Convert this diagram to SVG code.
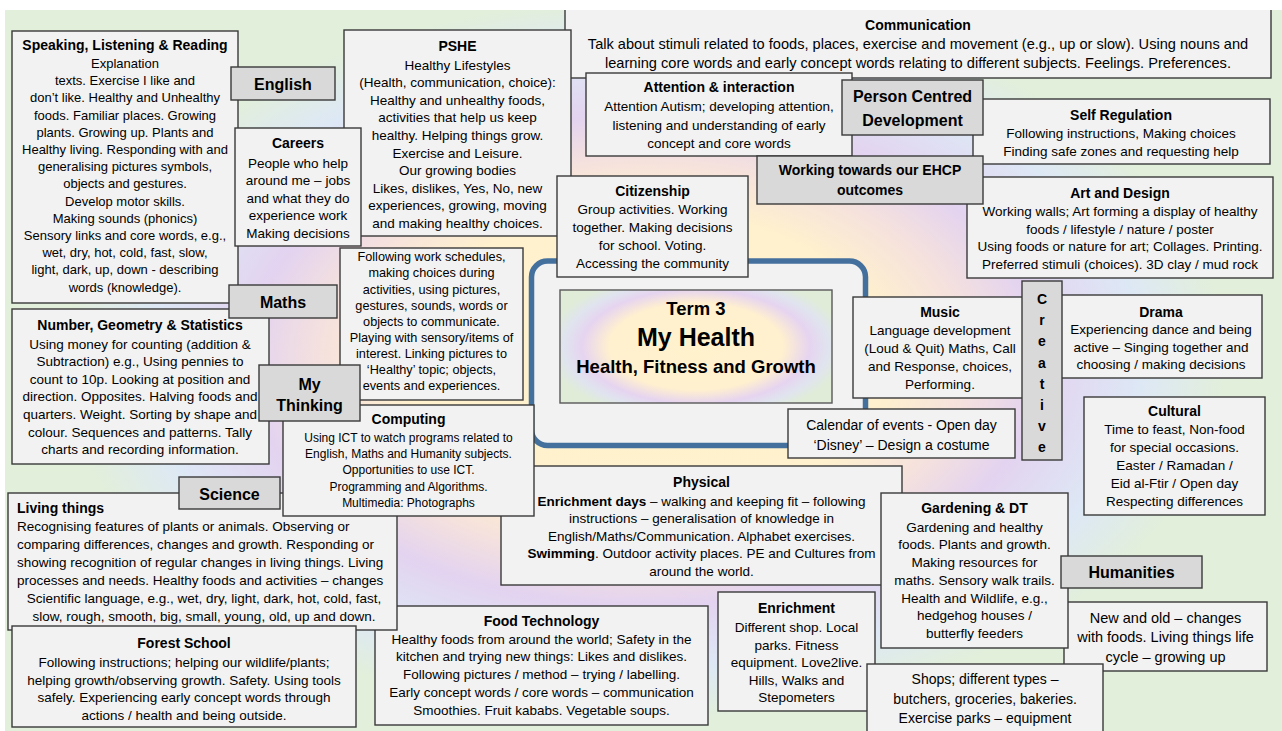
<svg xmlns="http://www.w3.org/2000/svg" width="1282" height="731" viewBox="0 0 1282 731">
<defs>
<radialGradient id="bg" gradientUnits="userSpaceOnUse" cx="645" cy="360" r="600" gradientTransform="translate(0 136.8) scale(1 0.62)">
<stop offset="0" stop-color="#fff2cc"/>
<stop offset="0.4" stop-color="#fff1cd"/>
<stop offset="0.53" stop-color="#f6e2dc"/>
<stop offset="0.66" stop-color="#e3d3f0"/>
<stop offset="0.83" stop-color="#dde8f5"/>
<stop offset="0.97" stop-color="#e2efda"/>
</radialGradient>
<radialGradient id="tg" gradientUnits="userSpaceOnUse" cx="696" cy="346.5" r="150" gradientTransform="translate(0 173.25) scale(1 0.5)">
<stop offset="0" stop-color="#fff2cc"/>
<stop offset="0.58" stop-color="#fff0cf"/>
<stop offset="0.76" stop-color="#e6d4f0"/>
<stop offset="0.88" stop-color="#e0e4ef"/>
<stop offset="1" stop-color="#e0ecd8"/>
</radialGradient>
<style>
.bx{fill:#f2f2f2;stroke:#3a3a3a;stroke-width:1.4}
.lb{fill:#d9d9d9;stroke:#3a3a3a;stroke-width:1.4}
text{font-family:'Liberation Sans',Arial,sans-serif;fill:#000;text-anchor:middle}
.h{font-weight:bold;font-size:14px}
.r{font-size:13.5px}
.m{font-size:13px}
.s{font-size:12px}
.g{font-size:14px}
.L{font-weight:bold;font-size:16px}
.st{text-anchor:start}
.bd{font-weight:bold}
</style>
</defs>
<rect x="5" y="10" width="1277" height="721" fill="url(#bg)"/>

<g id="communication">
<rect class="bx" x="565" y="2" width="706" height="76"/>
<text class="h" x="918" y="30">Communication</text>
<text style="font-size:14.6px"><tspan x="918" y="49">Talk about stimuli related to foods, places, exercise and movement (e.g., up or slow). Using nouns and</tspan><tspan x="918" y="68">learning core words and early concept words relating to different subjects. Feelings. Preferences.</tspan></text>
</g>

<g id="self-regulation">
<rect class="bx" x="973" y="99" width="297" height="65"/>
<text class="h" x="1121" y="120">Self Regulation</text>
<text class="r"><tspan x="1121" y="138">Following instructions, Making choices</tspan><tspan x="1121" y="156">Finding safe zones and requesting help</tspan></text>
</g>

<g id="attention">
<rect class="bx" x="586" y="73" width="266" height="83"/>
<text class="h" x="719" y="92">Attention &amp; interaction</text>
<text class="r"><tspan x="719" y="111">Attention Autism; developing attention,</tspan><tspan x="719" y="129.5">listening and understanding of early</tspan><tspan x="719" y="148">concept and core words</tspan></text>
</g>

<g id="person-centred">
<rect class="lb" x="842" y="80" width="141" height="55"/>
<text class="L"><tspan x="912.5" y="102">Person Centred</tspan><tspan x="912.5" y="126">Development</tspan></text>
</g>

<g id="art-design">
<rect class="bx" x="967" y="177" width="306" height="101"/>
<text class="h" x="1120" y="198">Art and Design</text>
<text class="r"><tspan x="1120" y="216">Working walls; Art forming a display of healthy</tspan><tspan x="1120" y="233.5">foods / lifestyle / nature / poster</tspan><tspan x="1120" y="251">Using foods or nature for art; Collages. Printing.</tspan><tspan x="1120" y="268.5">Preferred stimuli (choices). 3D clay / mud rock</tspan></text>
</g>

<g id="ehcp">
<rect class="lb" x="757" y="156" width="226" height="48"/>
<text class="h"><tspan x="870" y="175">Working towards our EHCP</tspan><tspan x="870" y="195">outcomes</tspan></text>
</g>

<g id="speaking">
<rect class="bx" x="12" y="31" width="226" height="272"/>
<text class="h" x="125" y="50">Speaking, Listening &amp; Reading</text>
<text class="m"><tspan x="125" y="68">Explanation</tspan><tspan x="125" dy="17.2">texts. Exercise I like and</tspan><tspan x="125" dy="17.2">don’t like. Healthy and Unhealthy</tspan><tspan x="125" dy="17.2">foods. Familiar places. Growing</tspan><tspan x="125" dy="17.2">plants. Growing up. Plants and</tspan><tspan x="125" dy="17.2">Healthy living. Responding with and</tspan><tspan x="125" dy="17.2">generalising pictures symbols,</tspan><tspan x="125" dy="17.2">objects and gestures.</tspan><tspan x="125" dy="17.2">Develop motor skills.</tspan><tspan x="125" dy="17.2">Making sounds (phonics)</tspan><tspan x="125" dy="17.2">Sensory links and core words, e.g.,</tspan><tspan x="125" dy="17.2">wet, dry, hot, cold, fast, slow,</tspan><tspan x="125" dy="17.2">light, dark, up, down - describing</tspan><tspan x="125" dy="17.2">words (knowledge).</tspan></text>
</g>

<g id="pshe">
<rect class="bx" x="344" y="30" width="227" height="206"/>
<text class="h" x="457.5" y="51">PSHE</text>
<text class="r"><tspan x="457.5" y="69.5">Healthy Lifestyles</tspan><tspan x="457.5" dy="17.6">(Health, communication, choice):</tspan><tspan x="457.5" dy="17.6">Healthy and unhealthy foods,</tspan><tspan x="457.5" dy="17.6">activities that help us keep</tspan><tspan x="457.5" dy="17.6">healthy. Helping things grow.</tspan><tspan x="457.5" dy="17.6">Exercise and Leisure.</tspan><tspan x="457.5" dy="17.6">Our growing bodies</tspan><tspan x="457.5" dy="17.6">Likes, dislikes, Yes, No, new</tspan><tspan x="457.5" dy="17.6">experiences, growing, moving</tspan><tspan x="457.5" dy="17.6">and making healthy choices.</tspan></text>
</g>

<g id="english">
<rect class="lb" x="231" y="67" width="104" height="33"/>
<text class="L" x="283" y="90">English</text>
</g>

<g id="careers">
<rect class="bx" x="235" y="128" width="126" height="118"/>
<text class="h" x="298" y="148">Careers</text>
<text class="r"><tspan x="298" y="167.5">People who help</tspan><tspan x="298" dy="17.6">around me – jobs</tspan><tspan x="298" dy="17.6">and what they do</tspan><tspan x="298" dy="17.6">experience work</tspan><tspan x="298" dy="17.6">Making decisions</tspan></text>
</g>

<g id="number">
<rect class="bx" x="12" y="309" width="257" height="155"/>
<text class="h" x="140" y="330">Number, Geometry &amp; Statistics</text>
<text class="r"><tspan x="140" y="348.5">Using money for counting (addition &amp;</tspan><tspan x="140" dy="17.6">Subtraction) e.g., Using pennies to</tspan><tspan x="140" dy="17.6">count to 10p. Looking at position and</tspan><tspan x="140" dy="17.6">direction. Opposites. Halving foods and</tspan><tspan x="140" dy="17.6">quarters. Weight. Sorting by shape and</tspan><tspan x="140" dy="17.6">colour. Sequences and patterns. Tally</tspan><tspan x="140" dy="17.6">charts and recording information.</tspan></text>
</g>

<g id="maths">
<rect class="lb" x="229" y="285" width="108" height="33"/>
<text class="L" x="283" y="308">Maths</text>
</g>

<g id="communicating">
<rect class="bx" x="340" y="248" width="183" height="152"/>
<text style="font-size:12.7px"><tspan x="431.5" y="261.3">Following work schedules,</tspan><tspan x="431.5" dy="16.1">making choices during</tspan><tspan x="431.5" dy="16.1">activities, using pictures,</tspan><tspan x="431.5" dy="16.1">gestures, sounds, words or</tspan><tspan x="431.5" dy="16.1">objects to communicate.</tspan><tspan x="431.5" dy="16.1">Playing with sensory/items of</tspan><tspan x="431.5" dy="16.1">interest. Linking pictures to</tspan><tspan x="431.5" dy="16.1">‘Healthy’ topic; objects,</tspan><tspan x="431.5" dy="16.1">events and experiences.</tspan></text>
</g>

<g id="centre">
<rect x="531.5" y="261" width="334" height="184.5" rx="16" fill="#f2f2f2" stroke="#44709d" stroke-width="5.5"/>
<rect x="560" y="290" width="272" height="113" fill="url(#tg)" stroke="#595959" stroke-width="1.4"/>
<text font-weight="bold"><tspan x="696" y="315" font-size="18.5px">Term 3</tspan><tspan x="696" y="346" font-size="25px">My Health</tspan><tspan x="696" y="373" font-size="18.5px">Health, Fitness and Growth</tspan></text>
</g>

<g id="citizenship">
<rect class="bx" x="557" y="176" width="191" height="101"/>
<text class="h" x="652.5" y="196">Citizenship</text>
<text class="r"><tspan x="652.5" y="213.5">Group activities. Working</tspan><tspan x="652.5" dy="18">together. Making decisions</tspan><tspan x="652.5" dy="18">for school. Voting.</tspan><tspan x="652.5" dy="18">Accessing the community</tspan></text>
</g>

<g id="music">
<rect class="bx" x="853" y="297" width="174" height="101"/>
<text class="h" x="940" y="316.5">Music</text>
<text class="r"><tspan x="940" y="334.5">Language development</tspan><tspan x="940" dy="18">(Loud &amp; Quit) Maths, Call</tspan><tspan x="940" dy="18">and Response, choices,</tspan><tspan x="940" dy="18">Performing.</tspan></text>
</g>

<g id="calendar">
<rect class="bx" x="788" y="409" width="227" height="49"/>
<text class="g"><tspan x="901.5" y="429.5">Calendar of events - Open day</tspan><tspan x="901.5" y="449.5">‘Disney’ – Design a costume</tspan></text>
</g>

<g id="drama">
<rect class="bx" x="1058" y="295" width="204" height="83"/>
<text class="h" x="1161" y="316.5">Drama</text>
<text class="r"><tspan x="1161" y="334">Experiencing dance and being</tspan><tspan x="1161" dy="17.5">active – Singing together and</tspan><tspan x="1161" dy="17.5">choosing / making decisions</tspan></text>
</g>

<g id="creative">
<rect class="lb" x="1022" y="281" width="40" height="179"/>
<text class="h"><tspan x="1042" y="304">C</tspan><tspan x="1042" dy="21.2">r</tspan><tspan x="1042" dy="21.2">e</tspan><tspan x="1042" dy="21.2">a</tspan><tspan x="1042" dy="21.2">t</tspan><tspan x="1042" dy="21.2">i</tspan><tspan x="1042" dy="21.2">v</tspan><tspan x="1042" dy="21.2">e</tspan></text>
</g>

<g id="cultural">
<rect class="bx" x="1084" y="397" width="181" height="118"/>
<text class="h" x="1174.5" y="416">Cultural</text>
<text class="r"><tspan x="1174.5" y="434">Time to feast, Non-food</tspan><tspan x="1174.5" dy="17.9">for special occasions.</tspan><tspan x="1174.5" dy="17.9">Easter / Ramadan /</tspan><tspan x="1174.5" dy="17.9">Eid al-Ftir / Open day</tspan><tspan x="1174.5" dy="17.9">Respecting differences</tspan></text>
</g>

<g id="food-technology">
<rect class="bx" x="375" y="606" width="333" height="119"/>
<text class="h" x="541.5" y="625.5">Food Technology</text>
<text class="r"><tspan x="541.5" y="643.5">Healthy foods from around the world; Safety in the</tspan><tspan x="541.5" dy="17.9">kitchen and trying new things: Likes and dislikes.</tspan><tspan x="541.5" dy="17.9">Following pictures / method – trying / labelling.</tspan><tspan x="541.5" dy="17.9">Early concept words / core words – communication</tspan><tspan x="541.5" dy="17.9">Smoothies. Fruit kababs. Vegetable soups.</tspan></text>
</g>

<g id="living-things">
<rect class="bx" x="8" y="493" width="389" height="137"/>
<text class="h st" x="17" y="512.5">Living things</text>
<text class="r"><tspan class="st" x="17" y="530.5">Recognising features of plants or animals. Observing or</tspan><tspan class="st" x="17" dy="18.1">comparing differences, changes and growth. Responding or</tspan><tspan class="st" x="17" dy="18.1">showing recognition of regular changes in living things. Living</tspan><tspan class="st" x="17" dy="18.1">processes and needs. Healthy foods and activities – changes</tspan><tspan x="204" dy="18.1">Scientific language, e.g., wet, dry, light, dark, hot, cold, fast,</tspan><tspan x="204" dy="18.1">slow, rough, smooth, big, small, young, old, up and down.</tspan></text>
</g>

<g id="physical">
<rect class="bx" x="501" y="466" width="401" height="119"/>
<text class="h" x="701.5" y="487">Physical</text>
<text class="r"><tspan x="701.5" y="505.5"><tspan class="bd">Enrichment days</tspan> – walking and keeping fit – following</tspan><tspan x="701.5" dy="17.6">instructions – generalisation of knowledge in</tspan><tspan x="701.5" dy="17.6">English/Maths/Communication. Alphabet exercises.</tspan><tspan x="701.5" dy="17.6"><tspan class="bd">Swimming</tspan>. Outdoor activity places. PE and Cultures from</tspan><tspan x="701.5" dy="17.6">around the world.</tspan></text>
</g>

<g id="computing">
<rect class="bx" x="283" y="405" width="251" height="111"/>
<text class="h" x="408.5" y="424">Computing</text>
<text class="s"><tspan x="408.5" y="442">Using ICT to watch programs related to</tspan><tspan x="408.5" dy="16.2">English, Maths and Humanity subjects.</tspan><tspan x="408.5" dy="16.2">Opportunities to use ICT.</tspan><tspan x="408.5" dy="16.2">Programming and Algorithms.</tspan><tspan x="408.5" dy="16.2">Multimedia: Photographs</tspan></text>
</g>

<g id="my-thinking">
<rect class="lb" x="259" y="365" width="101" height="56"/>
<text class="L"><tspan x="309.5" y="390">My</tspan><tspan x="309.5" y="411">Thinking</tspan></text>
</g>

<g id="science">
<rect class="lb" x="179" y="477" width="101" height="32"/>
<text class="L" x="229.5" y="499.5">Science</text>
</g>

<g id="forest-school">
<rect class="bx" x="12" y="626" width="344" height="101"/>
<text class="h" x="184" y="648">Forest School</text>
<text class="r"><tspan x="184" y="667">Following instructions; helping our wildlife/plants;</tspan><tspan x="184" dy="17.6">helping growth/observing growth. Safety. Using tools</tspan><tspan x="184" dy="17.6">safely. Experiencing early concept words through</tspan><tspan x="184" dy="17.6">actions / health and being outside.</tspan></text>
</g>

<g id="enrichment">
<rect class="bx" x="718" y="592" width="157" height="119"/>
<text class="h" x="796.5" y="612.5">Enrichment</text>
<text class="r"><tspan x="796.5" y="632">Different shop. Local</tspan><tspan x="796.5" dy="17.6">parks. Fitness</tspan><tspan x="796.5" dy="17.6">equipment. Love2live.</tspan><tspan x="796.5" dy="17.6">Hills, Walks and</tspan><tspan x="796.5" dy="17.6">Stepometers</tspan></text>
</g>

<g id="new-and-old">
<rect class="bx" x="1064" y="602" width="203" height="69"/>
<text style="font-size:14.5px"><tspan x="1165.5" y="623">New and old – changes</tspan><tspan x="1165.5" dy="19.3">with foods. Living things life</tspan><tspan x="1165.5" dy="19.3">cycle – growing up</tspan></text>
</g>

<g id="gardening-dt">
<rect class="bx" x="881" y="493" width="187" height="155"/>
<text class="h" x="974.5" y="512.5">Gardening &amp; DT</text>
<text class="r"><tspan x="974.5" y="531.5">Gardening and healthy</tspan><tspan x="974.5" dy="17.75">foods. Plants and growth.</tspan><tspan x="974.5" dy="17.75">Making resources for</tspan><tspan x="974.5" dy="17.75">maths. Sensory walk trails.</tspan><tspan x="974.5" dy="17.75">Health and Wildlife, e.g.,</tspan><tspan x="974.5" dy="17.75">hedgehog houses /</tspan><tspan x="974.5" dy="17.75">butterfly feeders</tspan></text>
</g>

<g id="humanities">
<rect class="lb" x="1061" y="556" width="141" height="32"/>
<text class="L" x="1131.5" y="578">Humanities</text>
</g>

<g id="shops">
<rect class="bx" x="867" y="664" width="236" height="75"/>
<text style="font-size:14px"><tspan x="985" y="684">Shops; different types –</tspan><tspan x="985" dy="19.5">butchers, groceries, bakeries.</tspan><tspan x="985" dy="19.5">Exercise parks – equipment</tspan></text>
</g>

<g id="connectors"></g>
<rect x="0" y="0" width="1282" height="10" fill="#ffffff"/>
<rect x="0" y="0" width="5" height="731" fill="#ffffff"/>
</svg>
